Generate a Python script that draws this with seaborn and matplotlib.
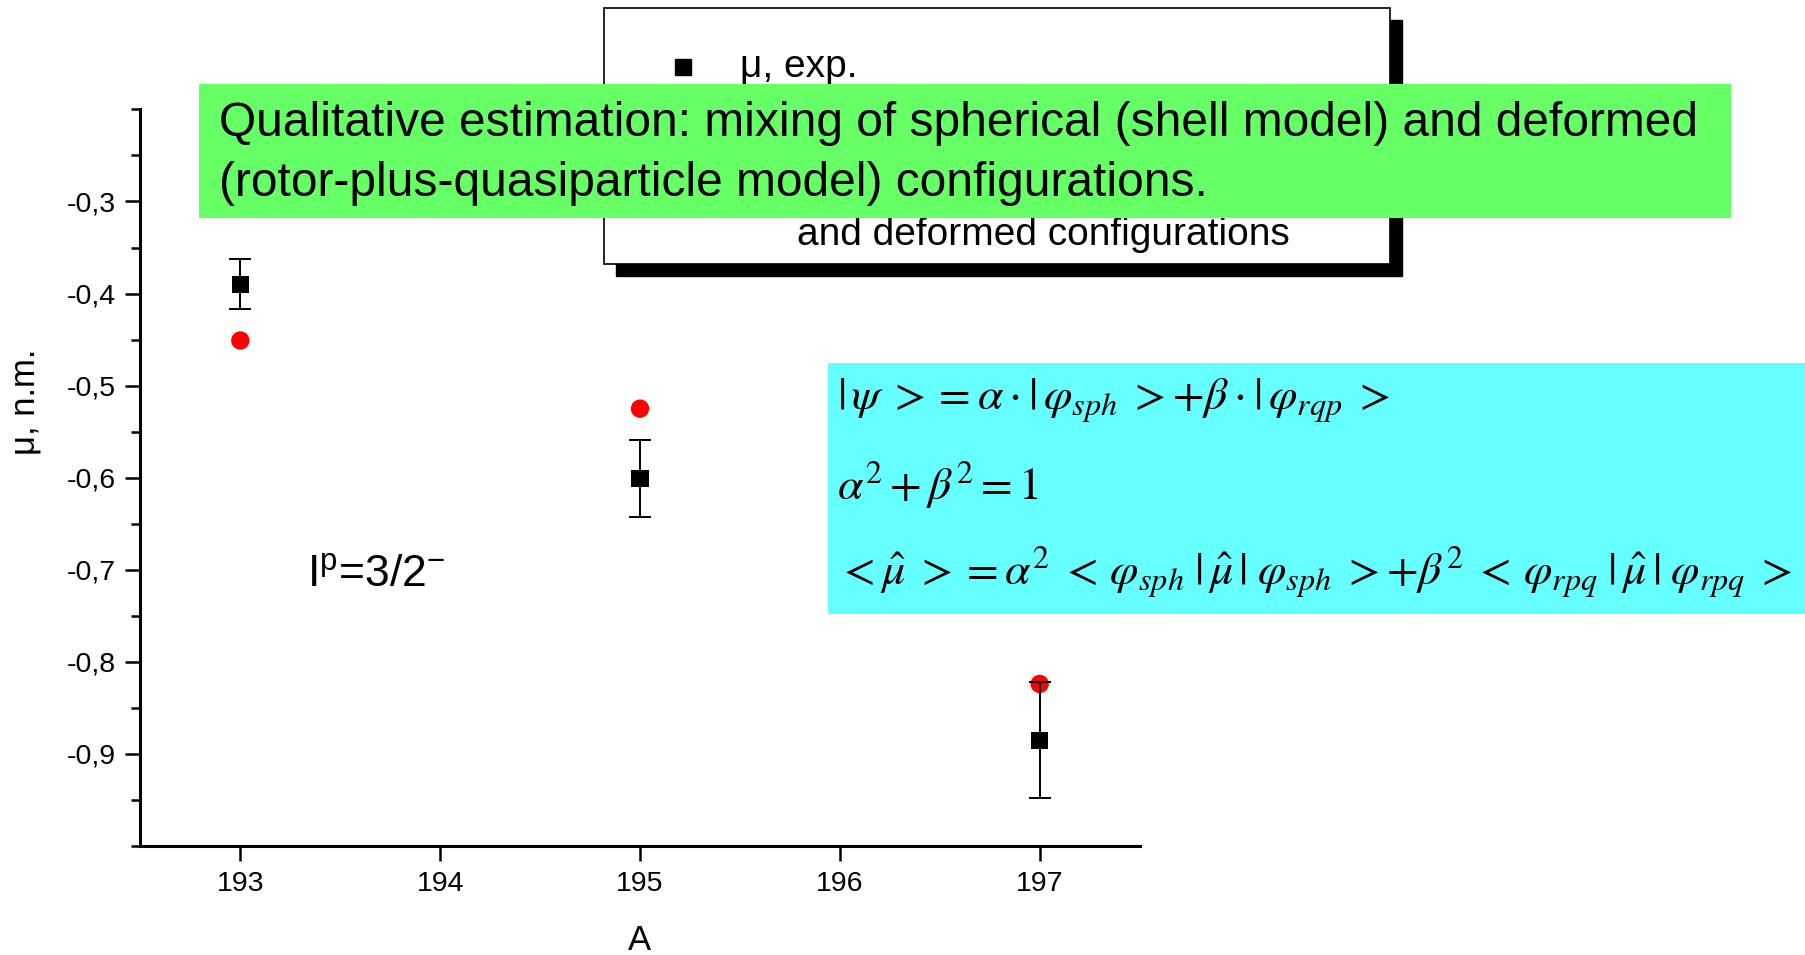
import numpy as np
import pandas as pd
import matplotlib
matplotlib.use("Agg")
import matplotlib.pyplot as plt
import seaborn as sns
from matplotlib.patches import Rectangle
from matplotlib.ticker import MultipleLocator, FuncFormatter, FixedLocator

# ---------------- data ----------------
mass_number = [193, 195, 197]
mu_exp = [-0.390, -0.601, -0.885]
mu_exp_err = [0.027, 0.042, 0.063]
mu_mix = [-0.451, -0.525, -0.824]
x_ticks = [193, 194, 195, 196, 197]
y_ticks = [-0.9, -0.8, -0.7, -0.6, -0.5, -0.4, -0.3]

legend_exp = "\u03bc, exp."
legend_mix_tail = "and deformed configurations"
green_lines = ["Qualitative estimation: mixing of spherical (shell model) and deformed",
               "(rotor-plus-quasiparticle model) configurations."]
cyan_lines = [r"$|\,\psi\; >= \alpha\cdot|\,\varphi_{sph}\; > + \beta\cdot|\,\varphi_{rqp}\; >$",
              r"$\alpha^{2} + \beta^{2} = \mathrm{1}$",
              r"$<\hat{\mu}\; >= \alpha^{2}\; <\,\varphi_{sph}\;|\,\hat{\mu}\,|\;\varphi_{sph}\; > + \beta^{2}\; <\,\varphi_{rpq}\;|\,\hat{\mu}\,|\;\varphi_{rpq}\; >$"]
spin_text = r"I$^{\mathrm{p}}$=3/2$^{\mathrm{-}}$"

df_exp = pd.DataFrame({"A": mass_number, "mu": mu_exp, "err": mu_exp_err})
df_mix = pd.DataFrame({"A": mass_number, "mu": mu_mix})

# ---------------- style ----------------
sns.set_theme(style="ticks")
plt.rcParams["font.family"] = ["Liberation Sans", "DejaVu Sans"]
plt.rcParams.update({
    "mathtext.fontset": "custom",
    "mathtext.rm": "Liberation Sans",
    "mathtext.it": "Liberation Sans:italic",
    "mathtext.bf": "Liberation Sans:bold",
    "text.color": "black",
    "axes.labelcolor": "black",
    "xtick.color": "black",
    "ytick.color": "black",
})

W, H = 1805, 955
fig = plt.figure(figsize=(W / 100, H / 100), dpi=100)
fig.patch.set_facecolor("white")

def fx(px):
    return px / W

def fy(py):
    return 1 - py / H

ax = fig.add_axes([fx(140.4), fy(846), fx(1139.6) - fx(140.4), fy(109.4) - fy(846)])
ax.set_facecolor("white")

# red: estimation with mixing
sns.scatterplot(data=df_mix, x="A", y="mu", ax=ax, color="#ff0000", marker="o",
                s=175, edgecolor="none", linewidth=0, zorder=3, legend=False)
# black: experiment with error bars
ax.errorbar(df_exp["A"], df_exp["mu"], yerr=df_exp["err"], fmt="none", ecolor="black",
            elinewidth=1.4, capsize=8, capthick=1.4, zorder=4)
sns.scatterplot(data=df_exp, x="A", y="mu", ax=ax, color="black", marker="s",
                s=150, edgecolor="none", linewidth=0, zorder=5, legend=False)

ax.set_xlim(192.5, 197.5)
ax.set_ylim(-1.0, -0.2)
ax.xaxis.set_major_locator(FixedLocator(x_ticks))
ax.yaxis.set_major_locator(FixedLocator(y_ticks))
ax.yaxis.set_minor_locator(MultipleLocator(0.05))
ax.xaxis.set_major_formatter(FuncFormatter(lambda v, p: f"{v:.0f}"))
ax.yaxis.set_major_formatter(FuncFormatter(lambda v, p: f"{v:.1f}".replace(".", ",")))

for s in ["top", "right"]:
    ax.spines[s].set_visible(False)
for s in ["left", "bottom"]:
    ax.spines[s].set_linewidth(2.2)
    ax.spines[s].set_color("black")

ax.tick_params(axis="both", which="major", direction="out", length=11, width=1.8,
               colors="black", labelsize=20.5, pad=7)
ax.tick_params(axis="y", which="minor", direction="out", length=6.5, width=1.8, colors="black")
ax.tick_params(axis="x", which="minor", length=0)

ax.set_xlabel("A", fontsize=25, va="center")
ax.set_ylabel("\u03bc, n.m.", fontsize=25, va="center")
ax.xaxis.set_label_coords(0.5, -0.128)
ax.yaxis.set_label_coords(-0.115, 0.603)

ax.text(0.167, 0.367, spin_text, transform=ax.transAxes, fontsize=32,
        ha="left", va="center", color="black")

# ---------------- legend box (with shadow) ----------------
lx0, ly0, lx1, ly1 = 604, 8, 1390, 264
shadow = Rectangle((fx(lx0 + 12), fy(ly1 + 12)), fx(lx1 - lx0), fy(ly0) - fy(ly1),
                   transform=fig.transFigure, facecolor="black", edgecolor="black", zorder=5)
box = Rectangle((fx(lx0), fy(ly1)), fx(lx1 - lx0), fy(ly0) - fy(ly1),
                transform=fig.transFigure, facecolor="white", edgecolor="black",
                linewidth=1.2, zorder=6)
fig.add_artist(shadow)
fig.add_artist(box)
fig.add_artist(plt.Line2D([fx(682.6)], [fy(66.8)], marker="s", markersize=11,
                          color="black", transform=fig.transFigure, zorder=7))
fig.text(fx(740), fy(66.8), legend_exp, fontsize=28, ha="left", va="center", zorder=7)
fig.text(fx(1043), fy(234.8), legend_mix_tail, fontsize=28, ha="center", va="center", zorder=7)

# ---------------- green box ----------------
green = Rectangle((fx(199), fy(218)), fx(1731 - 199), fy(84) - fy(218),
                  transform=fig.transFigure, facecolor="#66ff66", edgecolor="none", zorder=8)
fig.add_artist(green)
fig.text(fx(218.7), fy(123), green_lines[0], fontsize=34.5, ha="left", va="center", zorder=9)
fig.text(fx(218.7), fy(184), green_lines[1], fontsize=34.5, ha="left", va="center", zorder=9)

# ---------------- cyan box ----------------
cyan = Rectangle((fx(828), fy(614)), fx(W - 828), fy(363) - fy(614),
                 transform=fig.transFigure, facecolor="#66ffff", edgecolor="none", zorder=8)
fig.add_artist(cyan)
for yy, line in zip([400.6, 485.8, 572.0], cyan_lines):
    fig.text(fx(837), fy(yy), line, fontsize=33, ha="left", va="center",
             math_fontfamily="stix", zorder=9)

fig.savefig("out.png", dpi=100, facecolor="white")
